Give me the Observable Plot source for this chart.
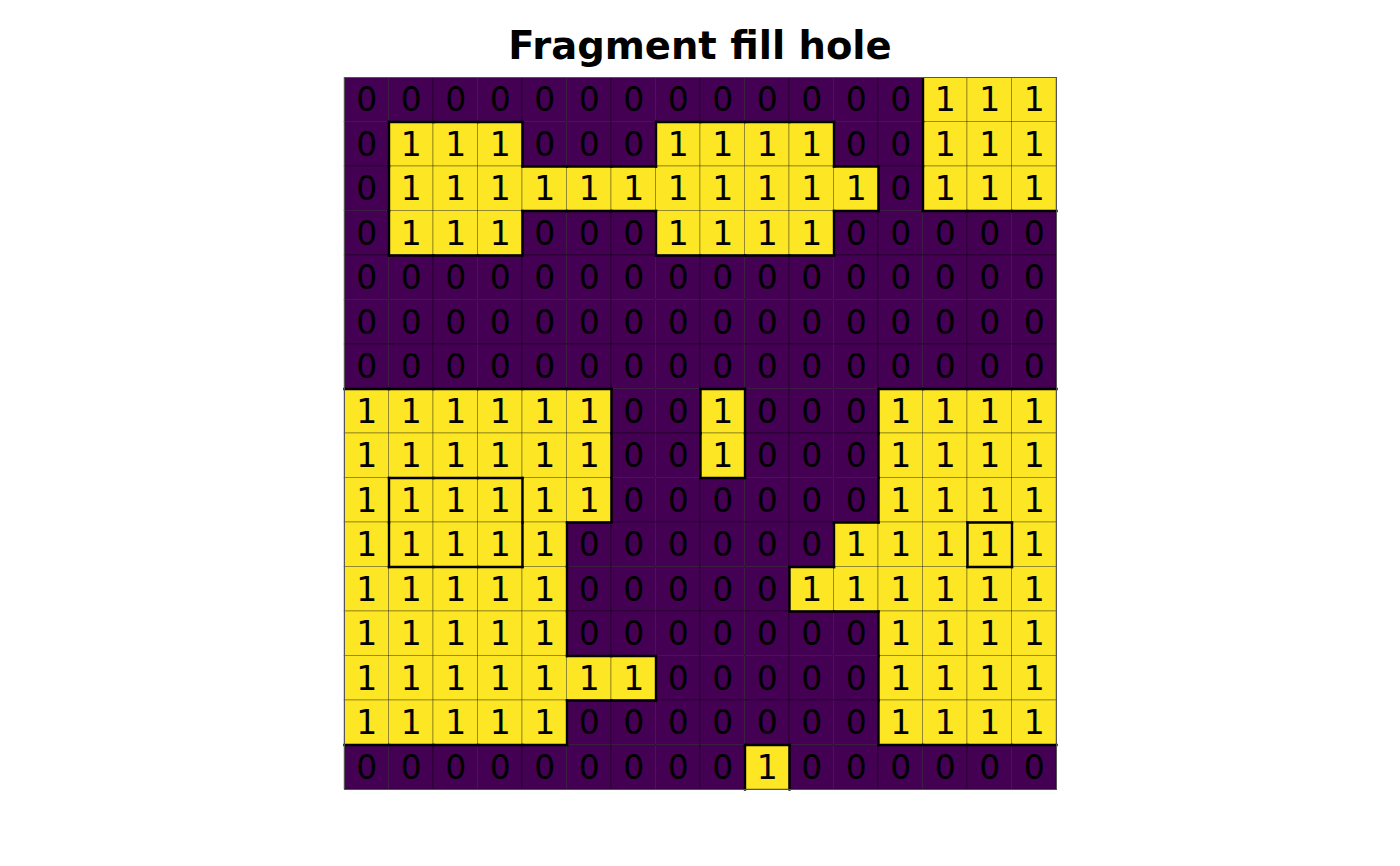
<!DOCTYPE html>
<html>
<head>
<meta charset="utf-8">
<script src="https://cdn.jsdelivr.net/npm/d3@7"></script>
<script src="https://cdn.jsdelivr.net/npm/@observablehq/plot@0.6"></script>
<style>
  html, body { margin: 0; padding: 0; background: #fff; }
  #title { width: 1400px; height: 77px; box-sizing: border-box; padding-top: 21px; text-align: center;
    font-family: "DejaVu Sans", sans-serif; font-weight: bold; font-size: 38.5px; line-height: 50px; color: #000; }
  #chart svg { display: block; }
</style>
</head>
<body>
<div id="title">Fragment fill hole</div>
<div id="chart"></div>
<script>
// Final (filled) raster values, row 0 at top
const rows = [
  "0000000000000111",
  "0111000111100111",
  "0111111111110111",
  "0111000111100000",
  "0000000000000000",
  "0000000000000000",
  "0000000000000000",
  "1111110010001111",
  "1111110010001111",
  "1111110000001111",
  "1111100000011111",
  "1111100000111111",
  "1111100000001111",
  "1111111000001111",
  "1111100000001111",
  "0000000001000000"
];
// Cells that were holes (0) in the original fragment and got filled with 1
const holeCells = [[9, 1], [9, 2], [9, 3], [10, 1], [10, 2], [10, 3], [10, 14]];
const colors = {0: "#440154", 1: "#FDE725"};

const n = rows.length;
const cells = [];
rows.forEach((r, i) => r.split("").forEach((v, j) => cells.push({row: i, col: j, value: +v})));
const orig = rows.map(r => r.split("").map(Number));
holeCells.forEach(([i, j]) => { orig[i][j] = 0; });

// Boundary segments between cells of differing original value
const edges = [];
for (let i = 0; i < n; i++) {
  for (let j = 0; j < n; j++) {
    if (j + 1 < n && orig[i][j] !== orig[i][j + 1]) edges.push({x1: j + 1, x2: j + 1, y1: i, y2: i + 1});
    if (i + 1 < n && orig[i][j] !== orig[i + 1][j]) edges.push({x1: j, x2: j + 1, y1: i + 1, y2: i + 1});
  }
}

const chart = Plot.plot({
  width: 1400,
  height: 789,
  marginTop: 0,
  marginBottom: 77,
  marginLeft: 344,
  marginRight: 344,
  x: {domain: [0, n], axis: null},
  y: {domain: [n, 0], axis: null},
  style: {fontFamily: "DejaVu Sans, sans-serif", background: "#fff"},
  marks: [
    Plot.rect(cells, {
      x1: "col", x2: d => d.col + 1, y1: "row", y2: d => d.row + 1,
      fill: d => colors[d.value], stroke: "#000", strokeOpacity: 0.45, strokeWidth: 0.7
    }),
    Plot.text(cells, {
      x: d => d.col + 0.5, y: d => d.row + 0.5, text: d => String(d.value),
      fill: "#000", fontSize: 33, dy: 1
    }),
    Plot.link(edges, {
      x1: "x1", y1: "y1", x2: "x2", y2: "y2",
      stroke: "#000", strokeWidth: 2.4, strokeLinecap: "square"
    }),
    Plot.frame({stroke: "#555", strokeWidth: 1})
  ]
});
document.getElementById("chart").appendChild(chart);
</script>
</body>
</html>
